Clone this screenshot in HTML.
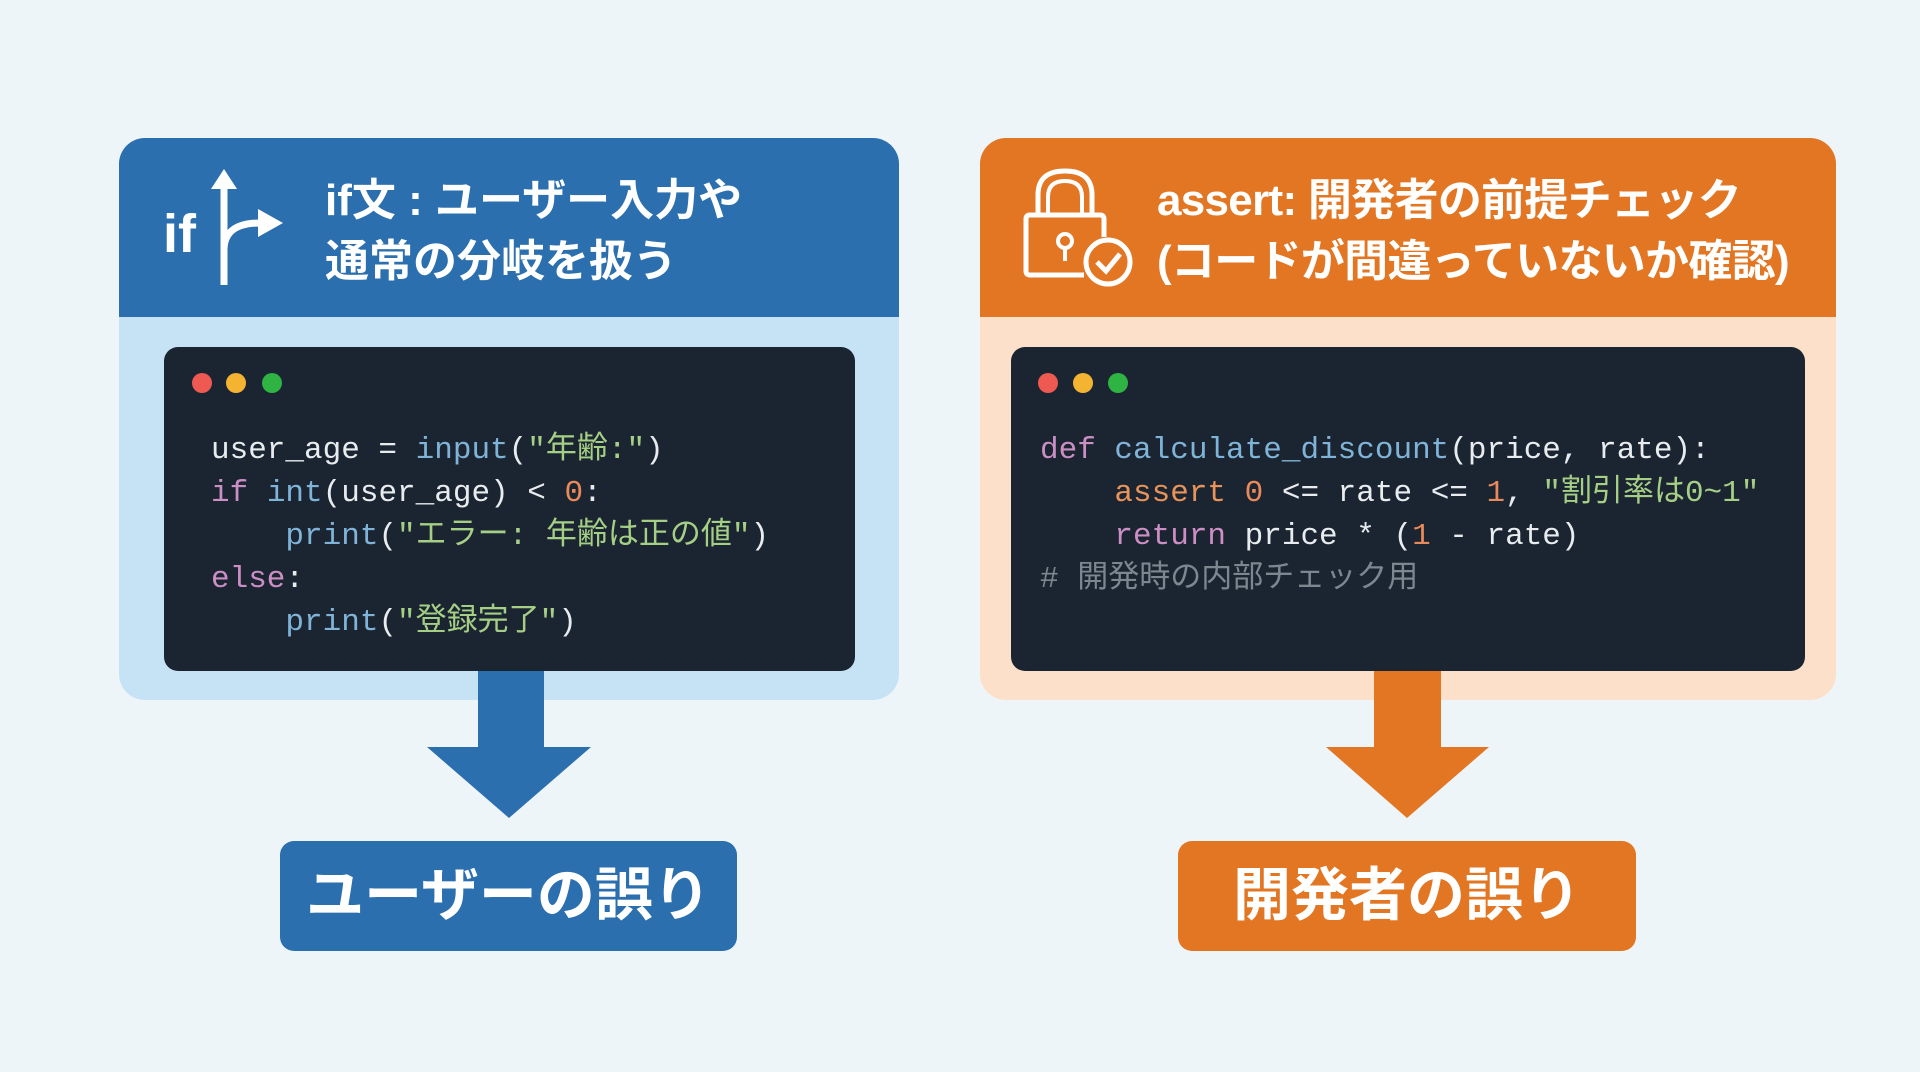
<!DOCTYPE html>
<html><head><meta charset="utf-8"><style>
*{margin:0;padding:0;box-sizing:border-box}
body{width:1920px;height:1072px;background:#eef5f9;position:relative;overflow:hidden;font-family:"Liberation Sans","Noto Sans CJK JP",sans-serif}
.abs{position:absolute}
.panel{position:absolute;top:138px;height:562px;border-radius:26px;overflow:hidden}
.hdr{position:absolute;left:0;top:0;right:0;height:179px}
.title{position:absolute;color:#fff;font-weight:bold;font-size:44px;line-height:61px;white-space:nowrap}
.code{position:absolute;top:347px;height:324px;background:#1b2431;border-radius:14px}
.dot{position:absolute;top:373px;width:20px;height:20px;border-radius:50%}
.src{position:absolute;top:429px;font-family:"Liberation Mono","DejaVu Sans Mono","Noto Sans CJK JP",monospace;font-size:31px;line-height:43px;color:#e8ecef;white-space:pre}
.kw{color:#cc8fc4}.fn{color:#7fb4d8}.st{color:#a6cf86}.nm{color:#e88a5a}.as{color:#e8935a}.cm{color:#7c8790}
.lab{position:absolute;top:841px;height:110px;border-radius:14px;color:#fff;font-weight:bold;font-size:58px;line-height:110px;text-align:center}
</style></head><body>
<div class="panel" style="left:119px;width:780px;background:#c6e3f6"><div class="hdr" style="background:#2b6fae"></div></div>
<div class="panel" style="left:980px;width:856px;background:#fde0c9"><div class="hdr" style="background:#e27623"></div></div>

<div class="abs" style="left:163px;top:203px;color:#fff;font-weight:bold;font-size:54px">if</div>
<svg class="abs" style="left:205px;top:165px" width="80" height="125" viewBox="0 0 80 125">
<path d="M19 120 V20" stroke="#fff" stroke-width="7" fill="none"/>
<path d="M6 24 L19 4 L32 24Z" fill="#fff"/>
<path d="M19 120 V85 Q19 58 55 58" stroke="#fff" stroke-width="7" fill="none"/>
<path d="M53 44 L78 58 L53 72Z" fill="#fff"/>
</svg>
<div class="title" style="left:325px;top:170px">if文 : ユーザー入力や<br>通常の分岐を扱う</div>

<svg class="abs" style="left:1020px;top:165px" width="115" height="125" viewBox="0 0 115 125">
<path d="M18 50 V30 Q18 6 45 6 Q72 6 72 30 V50" stroke="#fff" stroke-width="5" fill="none"/>
<path d="M28 50 V32 Q28 16 45 16 Q62 16 62 32 V50" stroke="#fff" stroke-width="4" fill="none"/>
<path d="M64 110 H10 Q6 110 6 106 V54 Q6 50 10 50 H80 Q84 50 84 54 V72" stroke="#fff" stroke-width="5" fill="none"/>
<circle cx="45" cy="76" r="7" stroke="#fff" stroke-width="4" fill="none"/>
<path d="M45 83 V96" stroke="#fff" stroke-width="4"/>
<circle cx="88" cy="97" r="22" stroke="#fff" stroke-width="5" fill="none"/>
<path d="M77 97 L86 106 L100 89" stroke="#fff" stroke-width="5" fill="none"/>
</svg>
<div class="title" style="left:1157px;top:170px;letter-spacing:-0.7px">assert: 開発者の前提チェック<br>(コードが間違っていないか確認)</div>

<div class="code" style="left:164px;width:691px"></div>
<div class="dot" style="left:192px;background:#ee5a52"></div>
<div class="dot" style="left:226px;background:#f4b431"></div>
<div class="dot" style="left:262px;background:#2fb343"></div>
<div class="src" style="left:211px">user_age = <span class="fn">input</span>(<span class="st">"年齢:"</span>)
<span class="kw">if</span> <span class="fn">int</span>(user_age) &lt; <span class="nm">0</span>:
    <span class="fn">print</span>(<span class="st">"エラー: 年齢は正の値"</span>)
<span class="kw">else</span>:
    <span class="fn">print</span>(<span class="st">"登録完了"</span>)</div>

<div class="code" style="left:1011px;width:794px"></div>
<div class="dot" style="left:1038px;background:#ee5a52"></div>
<div class="dot" style="left:1073px;background:#f4b431"></div>
<div class="dot" style="left:1108px;background:#2fb343"></div>
<div class="src" style="left:1040px"><span class="kw">def</span> <span class="fn">calculate_discount</span>(price, rate):
    <span class="as">assert</span> <span class="nm">0</span> &lt;= rate &lt;= <span class="nm">1</span>, <span class="st">"割引率は0~1"</span>
    <span class="kw">return</span> price * (<span class="nm">1</span> - rate)
<span class="cm"># 開発時の内部チェック用</span></div>

<svg class="abs" style="left:0;top:0" width="1920" height="1072">
<path d="M478 671 H544 V747 H591 L509 818 L427 747 H478Z" fill="#2b6fae"/>
<path d="M1374 671 H1441 V747 H1489 L1407 818 L1326 747 H1374Z" fill="#e27623"/>
</svg>

<div class="lab" style="left:280px;width:457px;background:#2b6fae">ユーザーの誤り</div>
<div class="lab" style="left:1178px;width:458px;background:#e27623">開発者の誤り</div>
</body></html>
